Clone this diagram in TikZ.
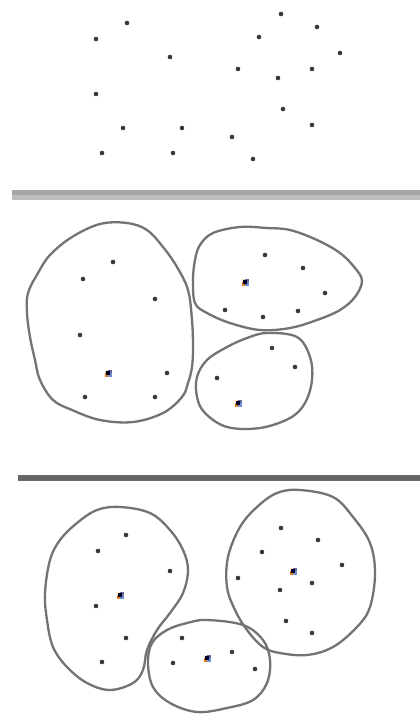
\documentclass[tikz,border=0pt]{standalone}
\newcommand\cmark[1]{\begin{scope}[shift={#1}]
 \fill[brown!40!orange] (-3.5,0) rectangle (0,3.5);
 \fill[cyan!40!blue!60] (0,0) rectangle (3.5,3.5);
 \fill[orange!20] (-3.5,-3.5) rectangle (0,0);
 \fill[blue!20!gray] (0,-3.5) rectangle (3.5,0);
 \fill[black!85!blue] (-1.6,-1.6) rectangle (1.6,1.6);
\end{scope}}
\begin{document}
\begin{tikzpicture}[x=1pt,y=-1pt,
 ptcol/.style={fill=black!78},
 blob/.style={draw=black!55, line width=2.3pt},
]
\useasboundingbox (0,0) rectangle (420,716);
\fill[white] (0,0) rectangle (420,716);
% panel 1 points
\foreach \p in {(127,23),(96,39),(170,57),(96,94),(123,128),(182,128),(102,153),(173,153),
 (281,14),(317,27),(259,37),(340,53),(238,69),(312,69),(278,78),(283,109),(312,125),(232,137),(253,159)}
 \fill[ptcol] \p circle (2.3);
% separator 1
\fill[black!35] (12,190) rectangle (420,195);
\fill[black!26] (12,195) rectangle (420,200);
% panel 2 blobs
\draw[blob] plot[smooth cycle, tension=0.6] coordinates {(127,223)(147,230)(163,247)(177,267)(188,290)(192,320)(193,347)(192,367)(188,383)(182,397)(163,413)(133,422)(100,420)(72,410)(53,400)(40,380)(35,360)(30,337)(27,313)(28,293)(38,273)(50,255)(72,237)(100,224)};
\draw[blob] plot[smooth cycle, tension=0.6] coordinates {(200,245)(213,233)(240,227)(267,228)(290,230)(317,240)(340,253)(355,268)(362,281)(355,297)(340,310)(317,320)(290,328)(260,330)(230,323)(207,313)(195,303)(193,280)(195,260)};
\draw[blob] plot[smooth cycle, tension=0.6] coordinates {(267,333)(297,337)(310,357)(312,380)(305,403)(290,418)(260,428)(227,427)(205,413)(197,397)(197,377)(207,360)(227,347)(247,338)};
\foreach \p in {(113,262),(83,279),(155,299),(80,335),(167,373),(85,397),(155,397),
 (265,255),(303,268),(325,293),(225,310),(263,317),(298,311),
 (272,348),(295,367),(217,378)}
 \fill[ptcol] \p circle (2.3);
\cmark{(108,373)}
\cmark{(245,282)}
\cmark{(238,403)}
% separator 2
\fill[black!60] (18,475) rectangle (420,481);
% panel 3 blobs
\draw[blob] plot[smooth cycle, tension=0.6] coordinates {(120,507)(150,513)(170,530)(183,550)(188,570)(183,593)(170,613)(157,630)(147,650)(143,670)(133,683)(110,690)(87,683)(67,667)(53,647)(47,620)(45,593)(50,560)(60,540)(77,523)(97,510)};
\draw[blob] plot[smooth cycle, tension=0.6] coordinates {(300,490)(333,497)(353,517)(370,543)(375,573)(370,607)(357,627)(333,647)(307,655)(280,653)(263,647)(247,630)(235,610)(227,587)(228,557)(240,527)(257,507)(277,493)};
\draw[blob] plot[smooth cycle, tension=0.6] coordinates {(207,620)(243,625)(263,640)(270,660)(267,683)(253,700)(227,708)(197,712)(170,703)(153,687)(148,663)(152,643)(167,630)(187,623)};
\foreach \p in {(126,535),(98,551),(170,571),(96,606),(126,638),(102,662),
 (281,528),(318,540),(262,552),(342,565),(238,578),(312,583),(280,590),(286,621),(312,633),
 (182,638),(232,652),(173,663),(255,669)}
 \fill[ptcol] \p circle (2.3);
\cmark{(120,595)}
\cmark{(293,571)}
\cmark{(207,658)}
\end{tikzpicture}
\end{document}
